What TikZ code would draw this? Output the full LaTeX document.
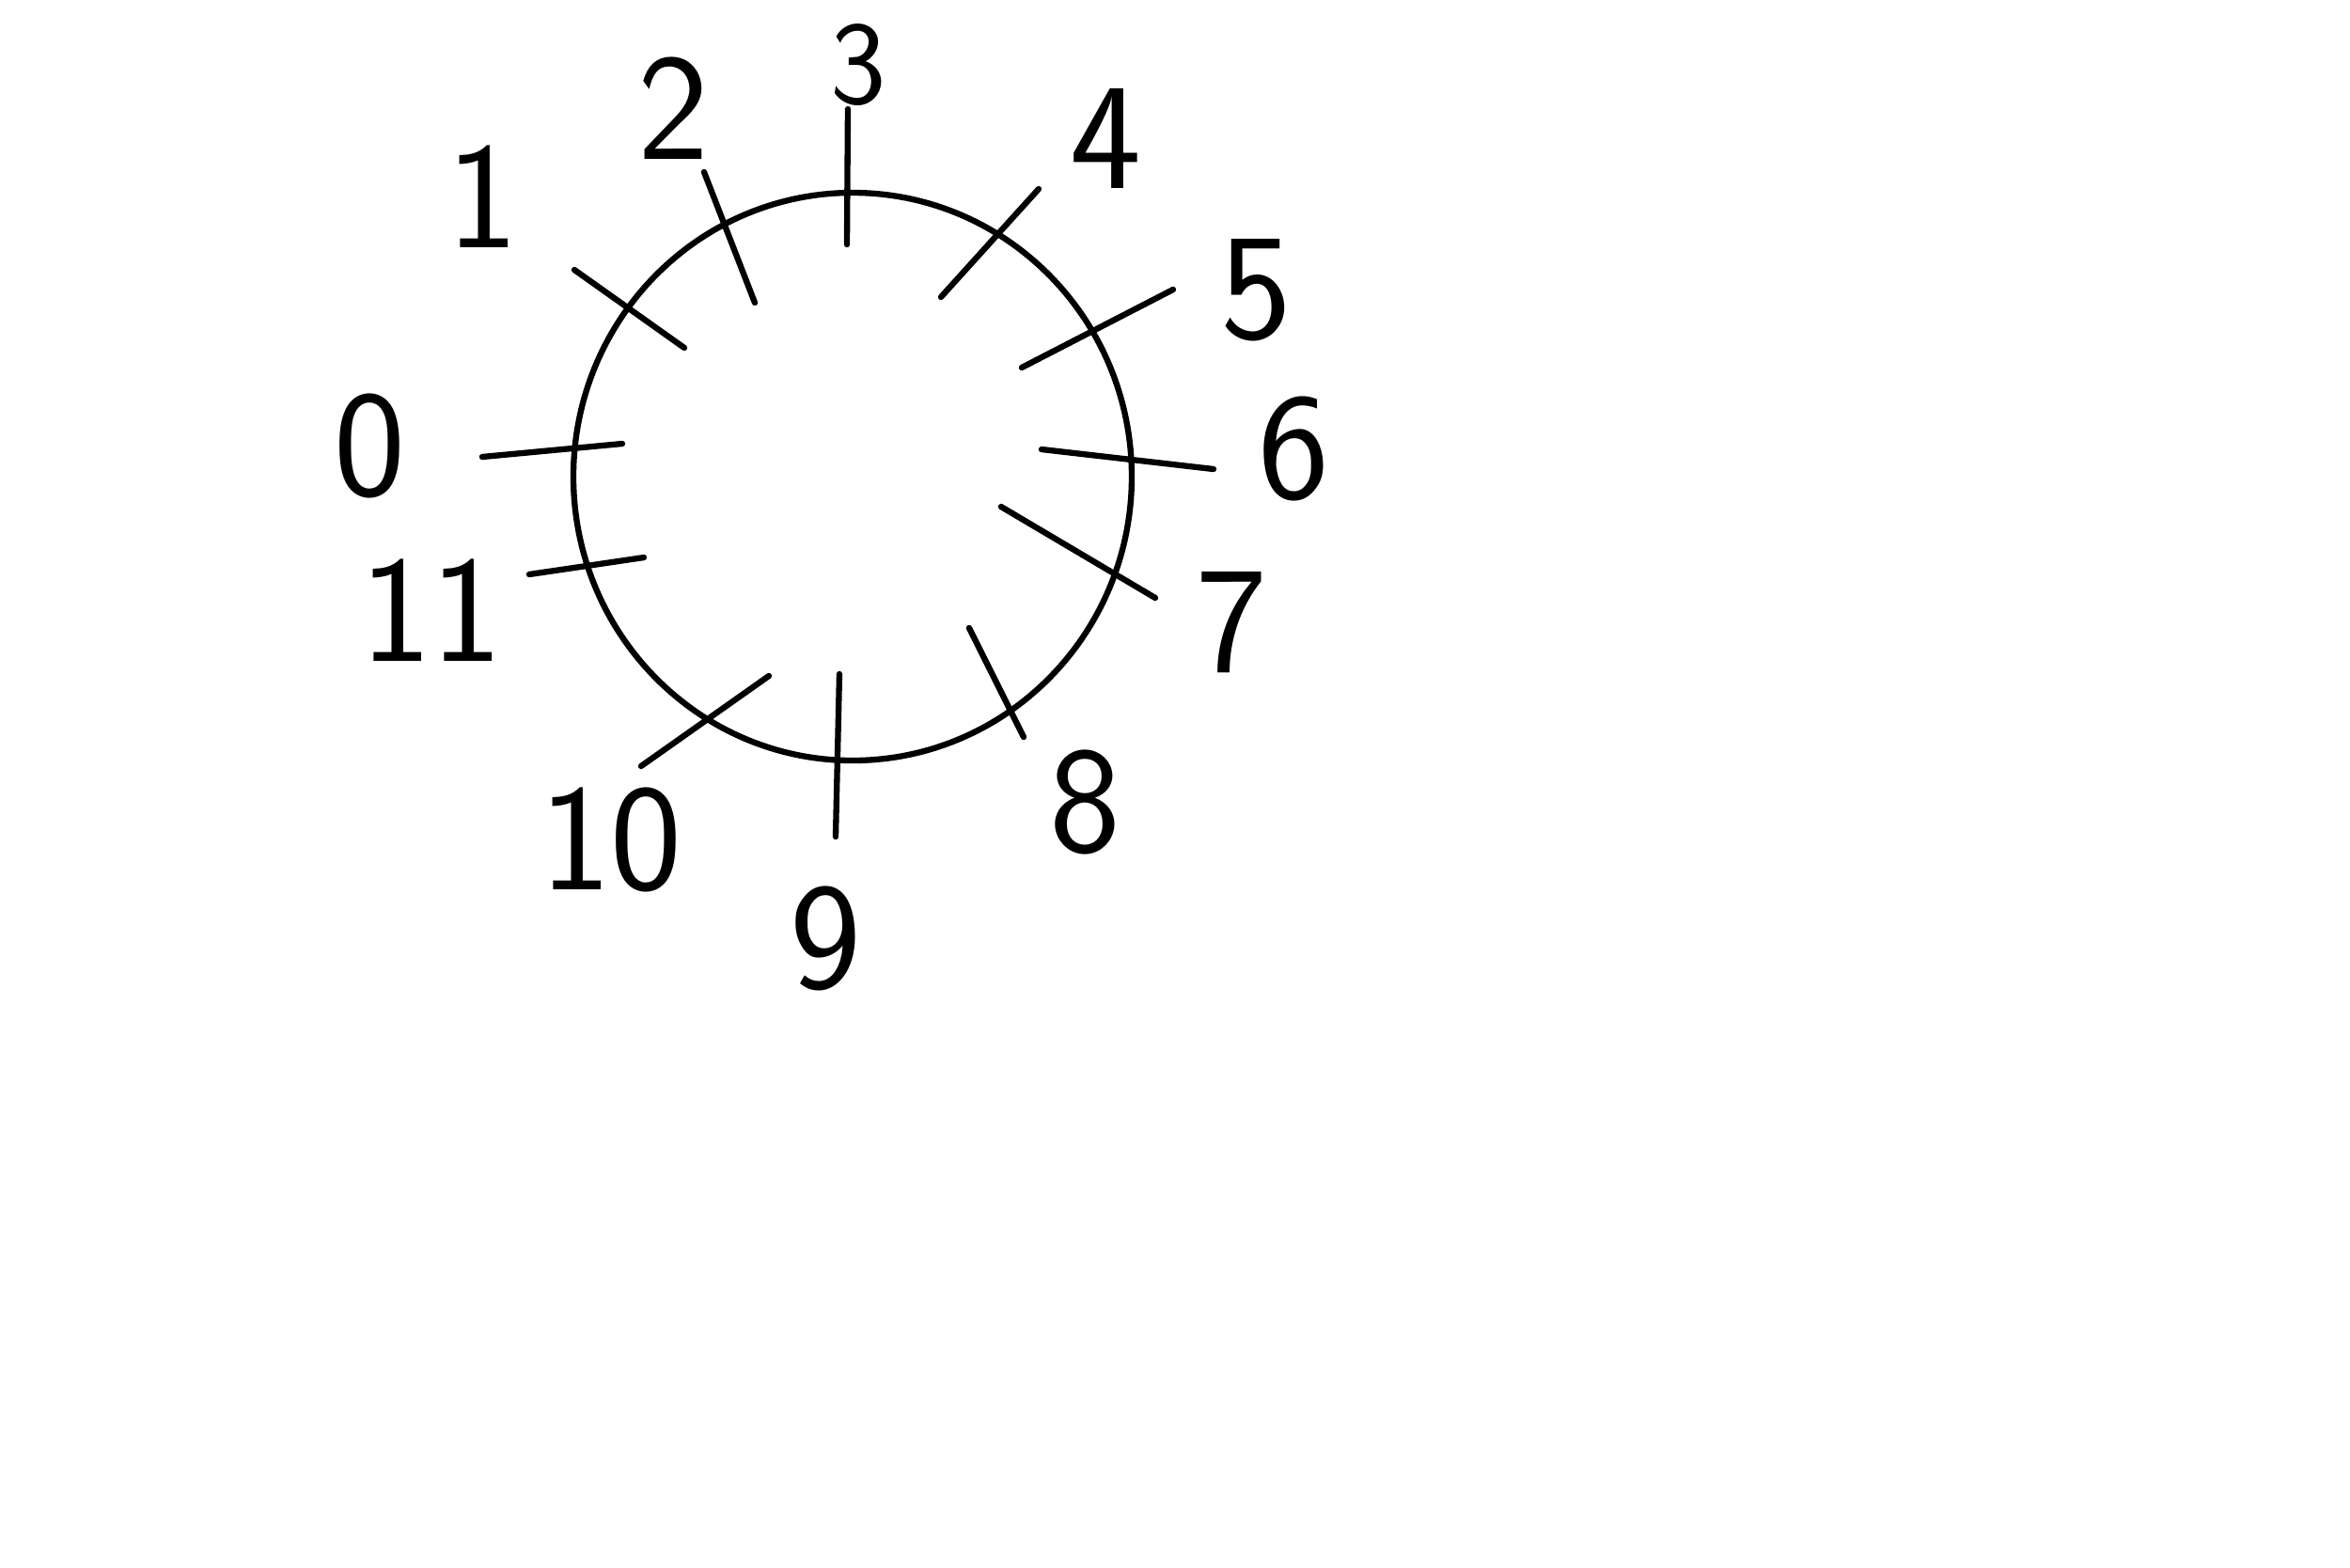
\documentclass[tikz,border=0pt]{standalone}
\usepackage{tikz}
\usetikzlibrary{positioning,calc}

\begin{document}
\begin{tikzpicture}[line width=1.8pt, line cap=round,
    num/.style={font=\sffamily\fontsize{46}{50}\selectfont}]
  \useasboundingbox (-9.07,-11.60) rectangle (15.93,5.07);
  % Dial
  \draw (0,0) ellipse (2.97 and 3.02);
  % Ticks
  \draw (-3.94,0.21) -- (-2.45,0.35);
  \draw (-2.96,2.20) -- (-1.79,1.37);
  \draw (-1.58,3.24) -- (-1.04,1.85);
  \draw (-0.05,3.91) -- (-0.06,2.47);
  \draw (1.98,3.06) -- (0.94,1.91);
  \draw (3.41,1.99) -- (1.80,1.16);
  \draw (3.84,0.08) -- (2.01,0.29);
  \draw (3.22,-1.29) -- (1.58,-0.32);
  \draw (1.82,-2.77) -- (1.24,-1.61);
  \draw (-0.18,-3.83) -- (-0.14,-2.10);
  \draw (-2.25,-3.08) -- (-0.89,-2.12);
  \draw (-3.44,-1.04) -- (-2.22,-0.86);
  % Labels
  \node[num] (l0) at (-5.13,0.33) {0};
  \node[num] (l1) at (-3.94,2.98) {1};
  \node[num] (l2) at (-1.91,3.92) {2};
  \node[num, font=\sffamily\fontsize{36}{40}\selectfont] (l3) at (0.06,4.38) {3};
  \node[num] (l4) at (2.69,3.60) {4};
  \node[num] (l5) at (4.29,1.98) {5};
  \node[num] (l6) at (4.69,0.30) {6};
  \node[num] (l7) at (4.03,-1.55) {7};
  \node[num] (l8) at (2.47,-3.46) {8};
  \node[num] (l9) at (-0.29,-4.91) {9};
  \node[num] (l10) at (-2.57,-3.86) {10};
  \node[num] (l11) at (-4.48,-1.42) {11};
\end{tikzpicture}
\end{document}
